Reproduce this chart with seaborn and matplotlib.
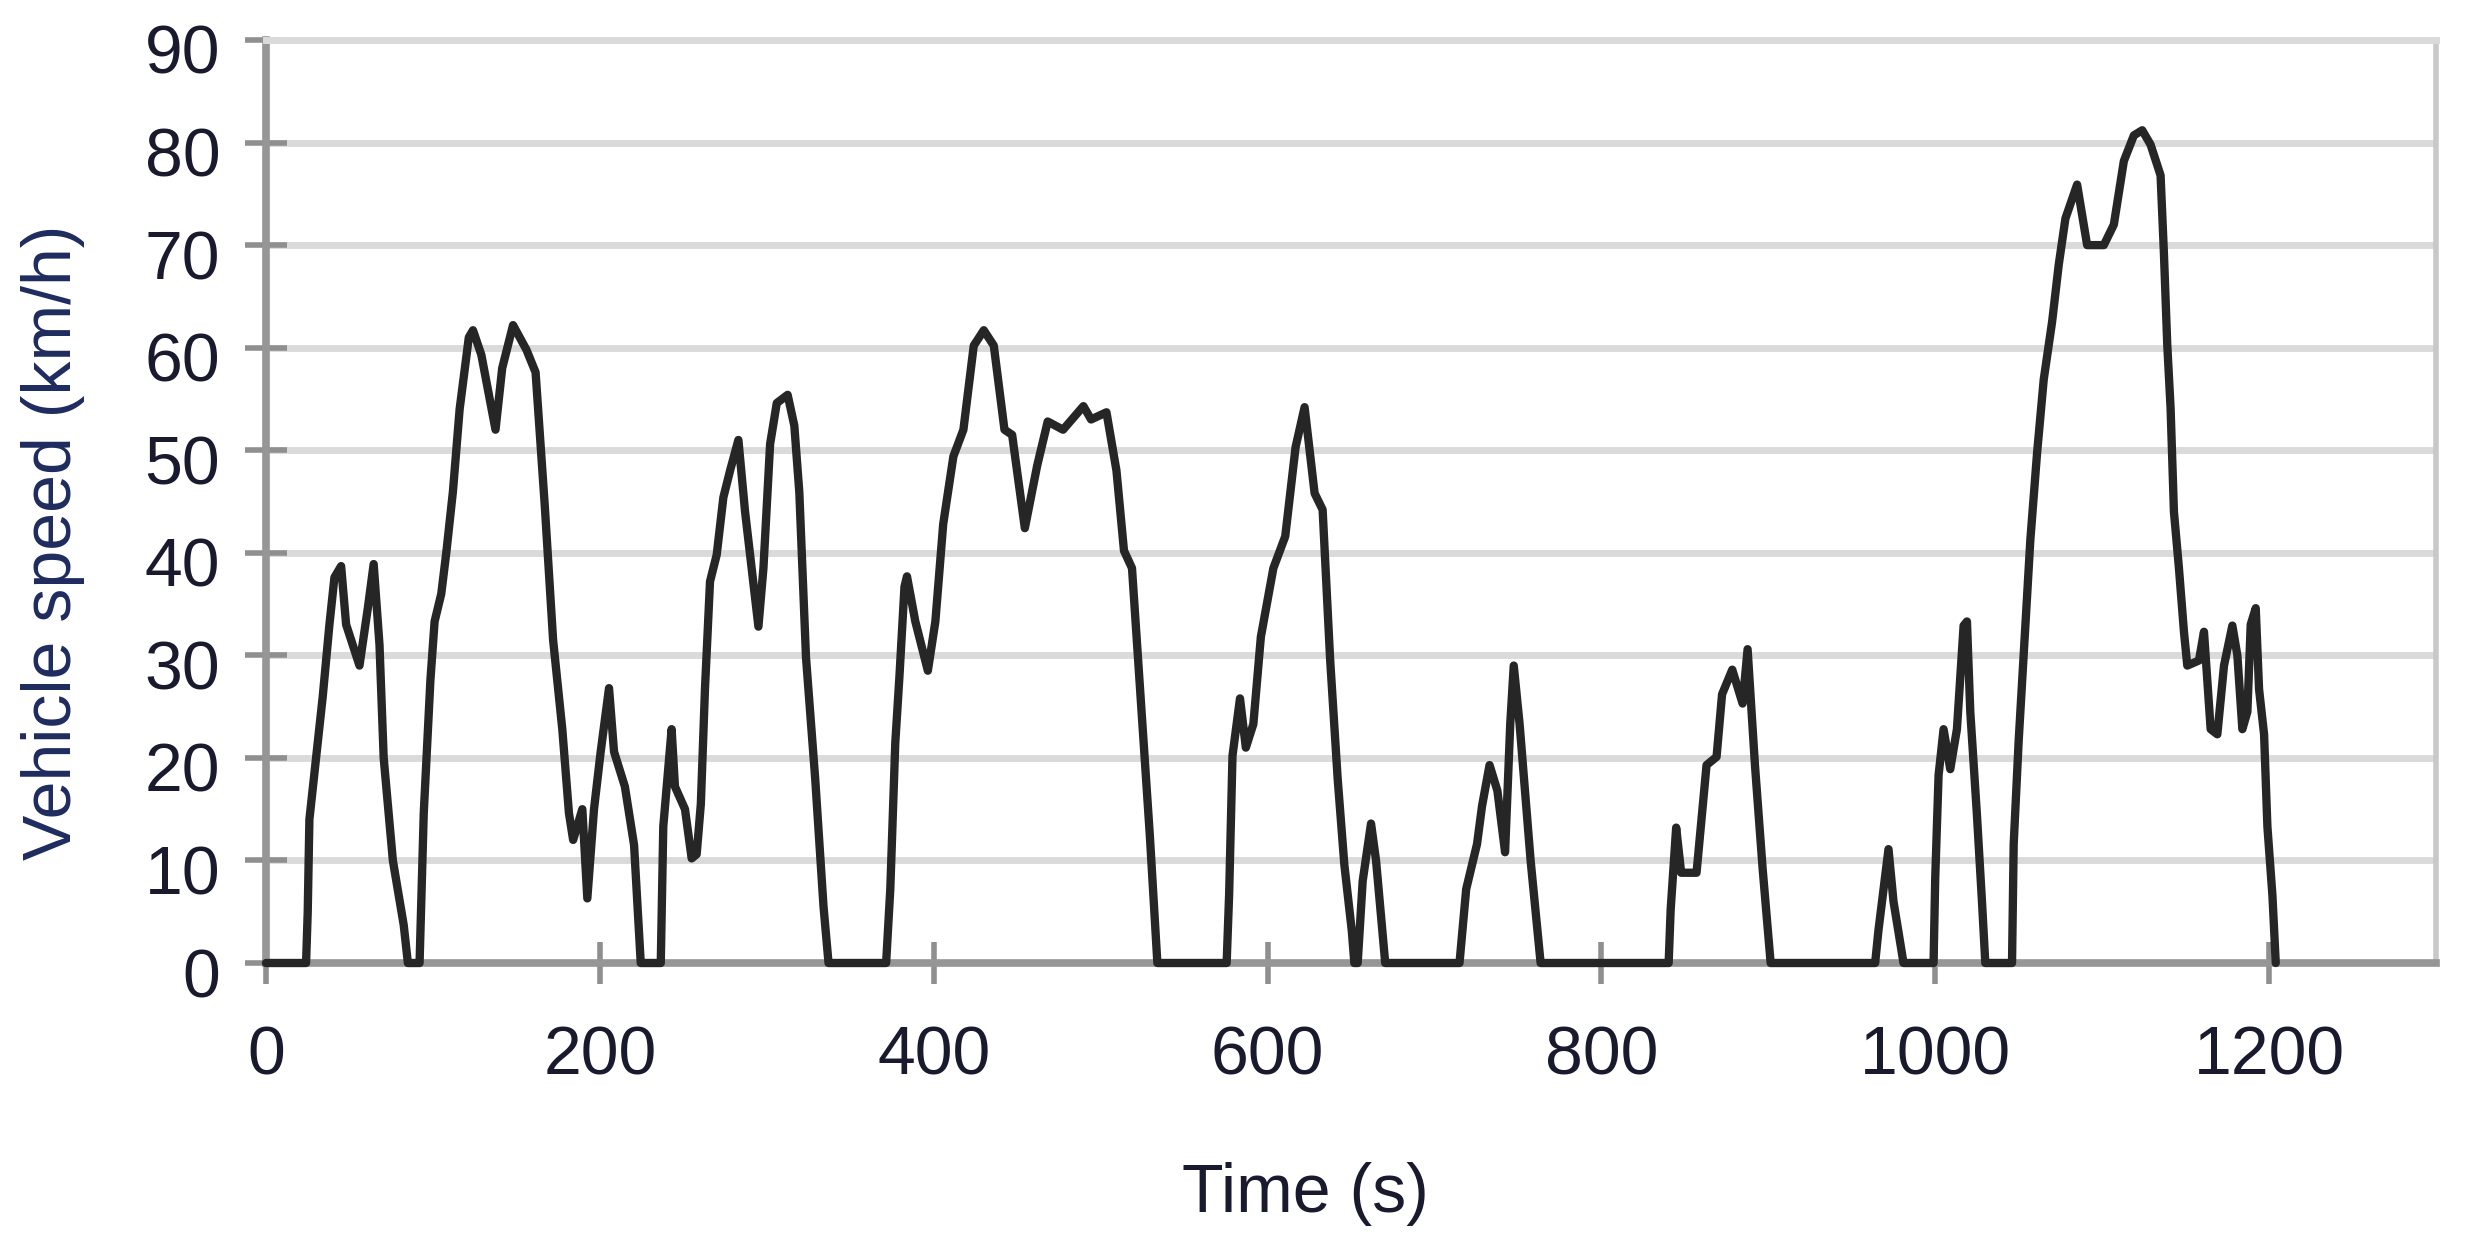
import matplotlib
matplotlib.use("Agg")
import matplotlib.pyplot as plt
import matplotlib.transforms as mtransforms
import numpy as np
import pandas as pd
import seaborn as sns

# ---- data ----
time_s = [0, 24, 25, 26, 30, 34, 38, 41, 45, 48, 56, 61, 64.5, 68, 70.5, 76, 82.5, 85,
          92, 94.5, 98.5, 101, 105, 108, 112, 116, 121.5, 124, 129, 137.5, 141.5, 148,
          156, 161.5, 167, 172, 177.5, 181.5, 184, 189.5, 192.5, 196.5, 200.5, 205.5,
          208.5, 215, 220.5, 224.5, 236.5, 238, 243, 245, 251, 255, 258, 260.5, 263,
          266, 270, 274, 278, 283, 287, 295, 298, 302, 306, 312.5, 316.5, 319.5, 323.5,
          329, 334, 337, 371.5, 374, 377, 379.5, 382.5, 384, 389, 396.5, 401, 405.7,
          411.8, 417.8, 424, 430, 436, 442.4, 447, 454.6, 462, 468.3, 477.5, 489.7,
          494.3, 503.5, 509.5, 514, 518.8, 525, 529.5, 534, 575.5, 577, 579, 583.5,
          587, 591.5, 596, 603.5, 610.6, 616.8, 622.2, 628.2, 633, 637.5, 642, 646,
          650.5, 652, 654, 657, 662, 665, 670.5, 715, 719, 725.5, 728.5, 733, 737.7,
          742.3, 745.4, 747.5, 751, 757.6, 763.6, 840.3, 841.5, 844.8, 847.8, 857, 863,
          869, 872.3, 878.4, 884.6, 887.6, 892, 896.6, 901.4, 964, 966, 968.6, 972,
          975, 981, 999, 1000, 1002, 1005, 1009, 1013, 1017, 1019, 1021, 1025, 1028,
          1030, 1046, 1047, 1050, 1053, 1057, 1061, 1065, 1070, 1074, 1078, 1085, 1091,
          1101, 1107, 1113, 1119, 1124, 1129, 1135, 1137, 1139, 1141, 1143, 1146, 1149,
          1151, 1158, 1161, 1165, 1169, 1173, 1178, 1181, 1184, 1187, 1189, 1192, 1194,
          1197, 1199, 1202, 1204]
speed_kmh = [0, 0, 5, 14, 20, 26, 33, 37.6, 38.7, 33, 29, 34.6, 38.9, 31, 20, 10, 3.7, 0,
             0, 14.6, 27.6, 33.3, 36, 40, 46, 54, 61, 61.7, 59.3, 52, 58, 62.2,
             59.8, 57.6, 44.6, 31.5, 22.8, 14.6, 12, 15, 6.3, 15, 20.6, 26.8,
             20.6, 17.2, 11.5, 0, 0, 13.3, 22.8, 17.2, 15, 10.2, 10.6, 15.5, 26.8,
             37.2, 39.8, 45.4, 48, 51, 44, 32.8, 38.5, 50.6, 54.6, 55.4, 52.4, 45.9, 29.8,
             18, 5.5, 0, 0, 7.2, 21.5, 28, 36.7, 37.7, 33.3, 28.5, 33.3, 42.8,
             49.4, 52, 60.2, 61.7, 60.2, 52, 51.5, 42.4, 48.5, 52.8, 52, 54.3,
             53, 53.7, 48, 40.2, 38.5, 23.3, 12.4, 0, 0, 6.7, 20.2, 25.8,
             21, 23.3, 31.8, 38.5, 41.6, 50.3, 54.2, 45.8, 44.2, 29.6, 18, 9.6,
             3.1, 0, 0, 8, 13.6, 10, 0, 0, 7.2, 11.6, 15.3, 19.3, 16.8,
             10.8, 23.3, 29, 23.3, 10, 0, 0, 5.2, 13.2, 8.8, 8.8, 19.3,
             20.1, 26.2, 28.6, 25.3, 30.6, 19.3, 9.2, 0, 0, 3.2, 6.6, 11.1,
             6, 0, 0, 8.3, 18.3, 22.8, 18.9, 22.8, 32.9, 33.3, 24.5, 14.4, 6,
             0, 0, 11.6, 21.7, 30.1, 41.3, 49.7, 56.9, 62.5, 68.1, 72.6, 75.9, 70,
             70, 72, 78.2, 80.7, 81.2, 79.8, 76.8, 69.2, 60.3, 54.1, 44, 38.5, 32.3,
             29, 29.5, 32.3, 22.8, 22.3, 29, 32.9, 30, 22.8, 24.5, 33, 34.6, 26.7,
             22.3, 13.3, 6.6, 0]

x_ticks = [0, 200, 400, 600, 800, 1000, 1200]
y_ticks = [0, 10, 20, 30, 40, 50, 60, 70, 80, 90]
x_label = "Time (s)"
y_label = "Vehicle speed (km/h)"

df = pd.DataFrame({"time": time_s, "speed": speed_kmh})

sns.set_theme(style="white")
plt.rcParams["font.family"] = ["Liberation Sans", "DejaVu Sans"]

W, H = 2468, 1250
fig = plt.figure(figsize=(W / 100, H / 100), dpi=100)
L, R, T, B = 266, 2436, 40, 963
ax = fig.add_axes([L / W, 1 - B / H, (R - L) / W, (B - T) / H])

grid_col = "#dadada"
for yv in y_ticks[1:-1]:
    ax.axhline(yv, color=grid_col, lw=5, zorder=0)

sns.lineplot(data=df, x="time", y="speed", ax=ax, color="#262626", lw=6,
             estimator=None, sort=False, zorder=6, clip_on=False)

ax.set_xlim(0, 1300)
ax.set_ylim(0, 90)
ax.set_xticks(x_ticks)
ax.set_yticks(y_ticks)

text_col = "#1a1a2e"
ax.tick_params(axis="both", direction="inout", length=30, width=4,
               color="#8f8f8f", labelsize=49, labelcolor=text_col,
               bottom=True, left=True, top=False, right=False)
ax.tick_params(axis="y", pad=18)
ax.tick_params(axis="x", pad=29)

for side in ["left", "bottom"]:
    ax.spines[side].set_color("#969696")
    ax.spines[side].set_linewidth(5.5)
ax.spines["top"].set_color(grid_col)
ax.spines["top"].set_linewidth(5)
ax.spines["right"].set_color("#c8c8c8")
ax.spines["right"].set_linewidth(4)
for s in ax.spines.values():
    s.set_zorder(4)

offset = mtransforms.ScaledTranslation(0, -9 / 100, fig.dpi_scale_trans)
for lab in ax.get_yticklabels():
    lab.set_transform(lab.get_transform() + offset)

ax.set_xlabel(x_label, fontsize=49, color=text_col)
ax.set_ylabel(y_label, fontsize=49, color="#1e2b5e")
ax.xaxis.set_label_coords(0.479, -0.250)
ax.xaxis.label.set_va("center")
ax.yaxis.set_label_coords(-0.098, 0.456)
ax.yaxis.label.set_va("center")

fig.savefig("out.png", dpi=100, facecolor="white")
